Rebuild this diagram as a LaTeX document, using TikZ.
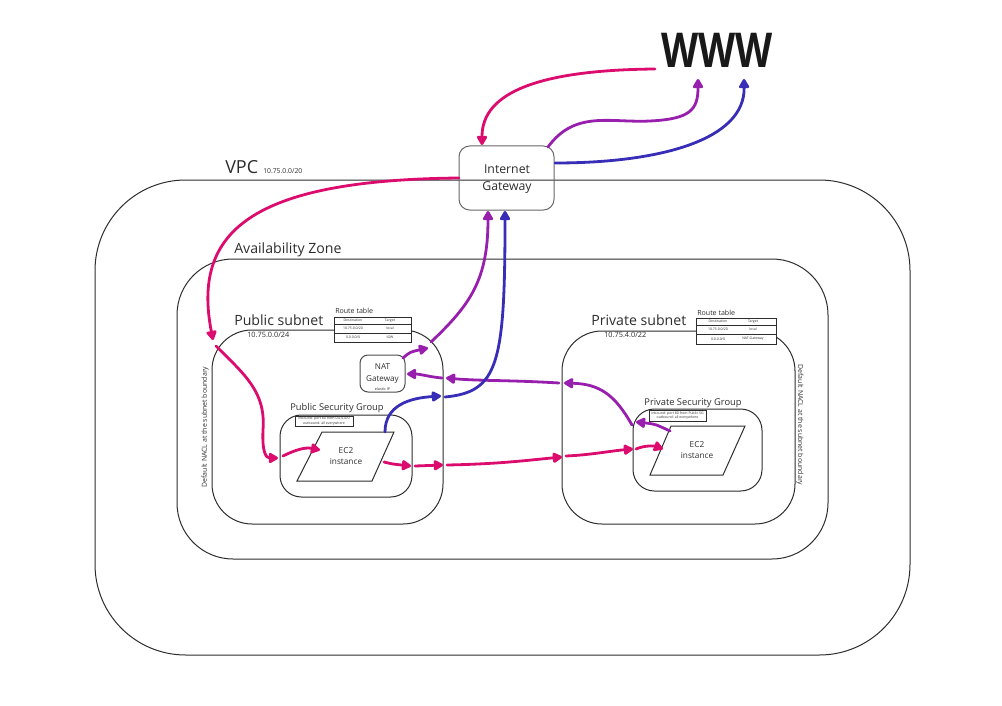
\documentclass[tikz,border=0pt]{standalone}
\usepackage{fontspec}
\setmainfont{Open Sans}
\usetikzlibrary{arrows.meta,fit,calc}
\definecolor{pk}{RGB}{220,11,110}
\definecolor{pu}{RGB}{152,30,174}
\definecolor{bl}{RGB}{55,45,182}
\definecolor{ln}{RGB}{45,45,45}
\begin{document}
\begin{tikzpicture}[x=0.75pt,y=-0.75pt,
  frame/.style={draw=ln, line width=0.75pt, inner sep=0pt},
  arr/.style={line width=2.1pt, line cap=round, -{Triangle[length=8pt,width=8.5pt,round]}},
  lbl/.style={inner sep=0pt, anchor=base west, text=ln},
  tinytxt/.style={inner sep=0pt, text=ln, font=\fontsize{2.6}{3.2}\selectfont, align=center},
  rotlbl/.style={inner sep=0pt, text=ln, font=\fontsize{5.2}{6}\selectfont},
]
\useasboundingbox (0,0) rectangle (1002,706);

% ---------- containers ----------
\node[frame, fit={(95,180)(910,655)}, rounded corners=68pt] (vpc) {};
\node[frame, fit={(177,259)(828,559)}, rounded corners=42pt] (az) {};
\node[frame, fit={(212,330)(443,524)}, rounded corners=30pt] (pubsub) {};
\node[frame, fit={(562,331)(795,524)}, rounded corners=30pt] (privsub) {};
\node[frame, fit={(280,415)(412,497)}, rounded corners=16pt] (pubsg) {};
\node[frame, fit={(633,409)(762,491)}, rounded corners=16pt] (privsg) {};

% ---------- labels ----------
\node[lbl, font=\fontsize{13.5}{15}\selectfont] (vpclbl) at (225,173) {VPC};
\node[lbl, font=\fontsize{5.1}{6}\selectfont] (vpccidr) at (263,173) {10.75.0.0/20};
\node[lbl, font=\fontsize{10.6}{12}\selectfont] (azlbl) at (234,253) {Availability Zone};
\node[lbl, font=\fontsize{10.6}{12}\selectfont] (publbl) at (234,325) {Public subnet};
\node[lbl, font=\fontsize{5.5}{6}\selectfont] (pubcidr) at (247,337) {10.75.0.0/24};
\node[lbl, font=\fontsize{10.6}{12}\selectfont] (privlbl) at (591,325) {Private subnet};
\node[lbl, font=\fontsize{5.5}{6}\selectfont] (privcidr) at (604,337) {10.75.4.0/22};
\node[inner sep=0pt, text=ln, font=\fontsize{7}{8}\selectfont] (pubsglbl) at (337,408) {Public Security Group};
\node[inner sep=0pt, text=ln, font=\fontsize{7}{8}\selectfont] (privsglbl) at (693,403) {Private Security Group};
\node[rotlbl, rotate=90] (naclL) at (205,427) {Default NACL at the subnet boundary};
\node[rotlbl, rotate=-90] (naclR) at (800,425) {Default NACL at the subnet boundary};

% ---------- route tables ----------
\node[lbl, font=\fontsize{5.3}{6}\selectfont] (rt1lbl) at (335,313.5) {Route table};
\node[frame, fill=white, fit={(334,317)(411,342)}] (rt1) {};
\draw[ln, line width=0.6pt] (rt1.west |- 0,324) -- (rt1.east |- 0,324);
\draw[ln, line width=0.4pt] (rt1.west |- 0,333) -- (rt1.east |- 0,333);
\node[tinytxt] (rt1a) at (353,320.5) {Destination};
\node[tinytxt] (rt1b) at (390,320.5) {Target};
\node[tinytxt] (rt1c) at (353,328.5) {10.75.0.0/20};
\node[tinytxt] (rt1d) at (390,328.5) {local};
\node[tinytxt] (rt1e) at (353,337.5) {0.0.0.0/0};
\node[tinytxt] (rt1f) at (390,337.5) {IGW};

\node[lbl, font=\fontsize{5.3}{6}\selectfont] (rt2lbl) at (697,315) {Route table};
\node[frame, fill=white, fit={(696,318)(776,344)}] (rt2) {};
\draw[ln, line width=0.6pt] (rt2.west |- 0,325) -- (rt2.east |- 0,325);
\draw[ln, line width=0.4pt] (rt2.west |- 0,334) -- (rt2.east |- 0,334);
\node[tinytxt] (rt2a) at (718,321.5) {Destination};
\node[tinytxt] (rt2b) at (753,321.5) {Target};
\node[tinytxt] (rt2c) at (718,329.5) {10.75.0.0/20};
\node[tinytxt] (rt2d) at (753,329.5) {local};
\node[tinytxt] (rt2e) at (718,339) {0.0.0.0/0};
\node[tinytxt] (rt2f) at (753,339) {NAT Gateway};

% ---------- SG notes ----------
\node[frame, fill=white, fit={(295,416)(353,426)}] (pubnote) {};
\node[tinytxt] (pubnotet) at (pubnote.center) {inbound: port 80 from 0.0.0.0/0\\outbound: all everywhere};
\node[frame, fill=white, fit={(649,410)(706,421)}] (privnote) {};
\node[tinytxt] (privnotet) at (privnote.center) {inbound: port 80 from Public SG\\outbound: all everywhere};

% ---------- gateways ----------
\node[frame, draw=black!60, fit={(459,146)(554,210)}, rounded corners=8pt] (igw) {};
\node[inner sep=0pt, text=ln, align=center, font=\fontsize{9.2}{12.7}\selectfont] (igwt) at (507,179) {Internet\\Gateway};
\node[frame, draw=black!70, fit={(360,355)(405,392)}, rounded corners=6pt] (nat) {};
\node[inner sep=0pt, text=ln, align=center, font=\fontsize{6.1}{9}\selectfont] (natt) at (382.5,374) {NAT\\Gateway};
\node[inner sep=0pt, text=ln, font=\fontsize{2.8}{3}\selectfont] (natip) at (382.5,389) {elastic IP};

% ---------- EC2 ----------
\coordinate (e1a) at (322,432); \coordinate (e1b) at (394,432);
\coordinate (e1c) at (372,481); \coordinate (e1d) at (297,481);
\draw[ln, line width=0.75pt] (e1a) -- (e1b) -- (e1c) -- (e1d) -- cycle;
\node[inner sep=0pt, text=ln, align=center, font=\fontsize{6.2}{8.2}\selectfont] (ec2pub) at (346,456) {EC2\\instance};
\coordinate (e2a) at (671,426); \coordinate (e2b) at (745,426);
\coordinate (e2c) at (723,475); \coordinate (e2d) at (650,475);
\draw[ln, line width=0.75pt] (e2a) -- (e2b) -- (e2c) -- (e2d) -- cycle;
\node[inner sep=0pt, text=ln, align=center, font=\fontsize{6.2}{8.2}\selectfont] (ec2priv) at (697,450) {EC2\\instance};

% ---------- WWW ----------
\node[inner sep=0pt, text=black!90] (www) at (717,50) {\scalebox{0.8}[1]{\fontsize{36}{36}\selectfont\bfseries WWW}};

% ---------- arrow endpoints ----------
\coordinate (wwwL) at (655,69);
\coordinate (wwwA) at (698,79);
\coordinate (wwwB) at (744,79);
\coordinate (igwT) at (482,145);
\coordinate (igwL) at (459,178);
\coordinate (igwTR) at (548,147);
\coordinate (igwR) at (555,163);
\coordinate (igwB1) at (488,211);
\coordinate (igwB2) at (505,211);
\coordinate (pkA) at (213,340);
\coordinate (pkB0) at (216,346);
\coordinate (pkB) at (278,458);
\coordinate (pkC0) at (283,456);
\coordinate (pkC) at (320,450);
\coordinate (pkD0) at (384,462);
\coordinate (pkD) at (411,466);
\coordinate (pkE0) at (415,466);
\coordinate (pkE) at (443,465);
\coordinate (pkF0) at (447,465);
\coordinate (pkF) at (562,457);
\coordinate (pkG0) at (566,456);
\coordinate (pkG) at (633,449);
\coordinate (pkH0) at (636,449);
\coordinate (pkH) at (663,449);
\coordinate (puA0) at (670,431);
\coordinate (puA) at (636,422);
\coordinate (puB0) at (632,425);
\coordinate (puB) at (564,383);
\coordinate (puC0) at (559,383);
\coordinate (puC) at (446,378);
\coordinate (puD0) at (442,378);
\coordinate (puD) at (407,374);
\coordinate (puE0) at (403,358);
\coordinate (puE) at (428,348);
\coordinate (puF0) at (431,342);
\coordinate (blA0) at (385,432);
\coordinate (blA) at (441,396);
\coordinate (blB0) at (445,397);

% ---------- pink: inbound ----------
\draw[arr, pk] (wwwL) .. controls (540,70) and (482,92) .. (igwT);
\draw[arr, pk] (igwL) .. controls (250,180) and (192,232) .. (pkA);
\draw[arr, pk] (pkB0) .. controls (245,375) and (266,392) .. (263,430) .. controls (262,452) and (266,458) .. (pkB);
\draw[arr, pk] (pkC0) .. controls (295,450) and (305,447) .. (pkC);
\draw[arr, pk] (pkD0) .. controls (392,464) .. (pkD);
\draw[arr, pk] (pkE0) -- (pkE);
\draw[arr, pk] (pkF0) .. controls (500,464) and (530,460) .. (pkF);
\draw[arr, pk] (pkG0) .. controls (590,455) and (610,451) .. (pkG);
\draw[arr, pk] (pkH0) .. controls (645,445) and (655,446) .. (pkH);

% ---------- purple: private outbound via NAT ----------
\draw[arr, pu] (puA0) .. controls (655,424) .. (puA);
\draw[arr, pu] (puB0) .. controls (615,395) and (600,384) .. (puB);
\draw[arr, pu] (puC0) .. controls (510,380) and (480,381) .. (puC);
\draw[arr, pu] (puD0) .. controls (430,377) and (420,374) .. (puD);
\draw[arr, pu] (puE0) .. controls (410,352) .. (puE);
\draw[arr, pu] (puF0) .. controls (470,305) and (488,280) .. (igwB1);
\draw[arr, pu] (igwTR) .. controls (575,110) and (610,123) .. (650,121) .. controls (690,119) and (698,110) .. (wwwA);

% ---------- blue: public outbound ----------
\draw[arr, bl] (blA0) .. controls (385,405) and (410,398) .. (blA);
\draw[arr, bl] (blB0) .. controls (498,392) and (505,365) .. (igwB2);
\draw[arr, bl] (igwR) .. controls (660,163) and (745,140) .. (wwwB);
\end{tikzpicture}
\end{document}
